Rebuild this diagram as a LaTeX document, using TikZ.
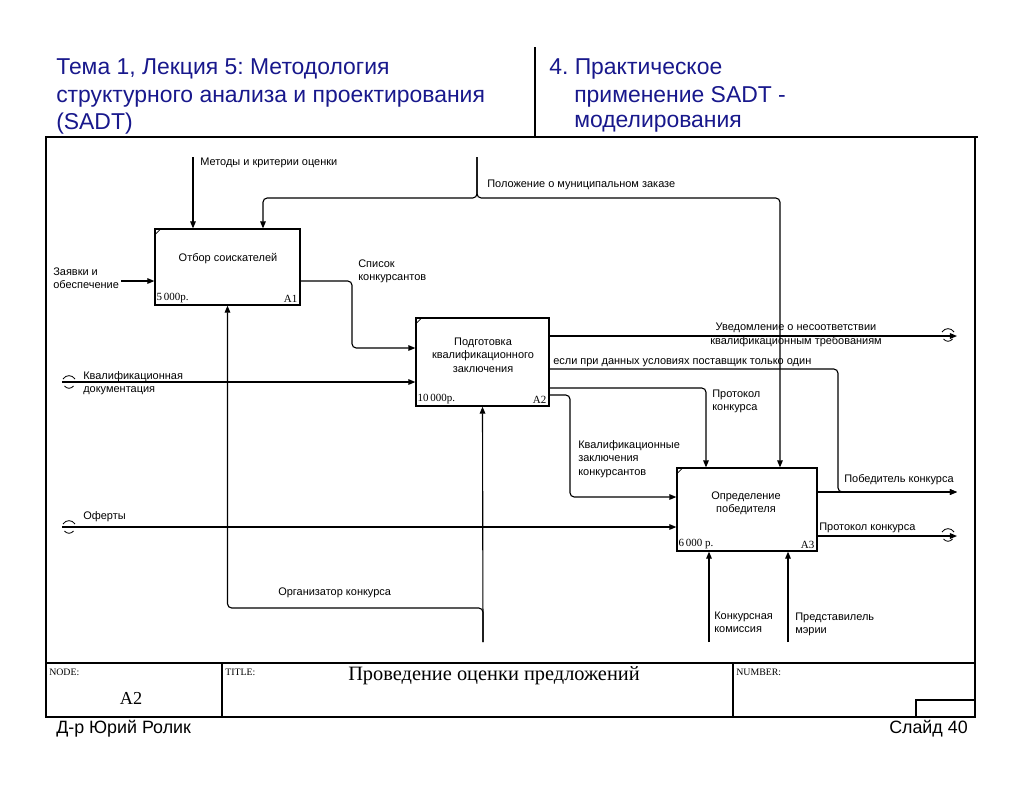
\documentclass[tikz,border=0pt]{standalone}
\usepackage{fontspec}
\setmainfont{Liberation Sans}
\newfontfamily\serifrm{Liberation Serif}
\usetikzlibrary{arrows.meta,positioning}
\definecolor{hdblue}{RGB}{24,24,140}
\frenchspacing

\tikzset{
  flow/.style={line width=0.8pt, rounded corners=3pt, -{Triangle[length=5pt,width=4pt]}},
  actbox/.style={draw, line width=0.9pt, fill=white, inner sep=0pt},
  lbl/.style={font=\fontsize{7.8}{9.6}\selectfont, inner sep=0pt, align=left},
  cost/.style={font=\serifrm\fontsize{7.8}{9}\selectfont, inner sep=0pt},
  frm/.style={line width=1pt},
  tiny/.style={font=\serifrm\fontsize{7}{8}\selectfont, inner sep=0pt, anchor=west},
  head/.style={font=\fontsize{16.3}{19.5}\selectfont, text=hdblue, inner sep=0pt, align=left, anchor=west},
  tunnel/.pic={
    \draw[line width=0.6pt] (-6,-3) .. controls (-3,-7.5) and (3,-7.5) .. (6,-3);
    \draw[line width=0.6pt] (-4.5,4) .. controls (-2,7) and (2,7) .. (4.5,4);
  },
}

\begin{document}
\begin{tikzpicture}[x=0.025cm,y=-0.025cm]
\useasboundingbox (0,0) rectangle (1024,791);
\fill[white] (0,0) rectangle (1024,791);

% header
\node[head] (hd1) at (56,96.5) {Тема 1, Лекция 5: Методология\\структурного анализа и проектирования\\(SADT)};
\node[head] (hd2) at (549,69) {4. Практическое};
\node[head] (hd3) at (574,97) {применение SADT -};
\node[head] (hd4) at (574,124) {моделирования};
\draw[line width=2pt] (535,47) -- (535,137);
\draw[line width=2pt] (45,137) -- (978,137);

% frame and title block
\draw[frm] (46,137) -- (46,717) -- (975,717) -- (975,137);
\draw[line width=1.3pt] (46,663) -- (975,663);
\draw[frm] (222,663) -- (222,717);
\draw[frm] (733,663) -- (733,717);
\draw[frm] (916,717) |- (975,700);
\node[tiny] (nd) at (49,672) {NODE:};
\node[tiny] (tl) at (225,672) {TITLE:};
\node[tiny] (nm) at (736,672) {NUMBER:};
\node[font=\serifrm\fontsize{13}{14}\selectfont, inner sep=0pt] (ndv) at (131,698) {A2};
\node[font=\serifrm\fontsize{14.5}{16}\selectfont, inner sep=0pt] (tlv) at (494,676) {Проведение оценки предложений};

% footer
\node[font=\fontsize{12.7}{14}\selectfont, inner sep=0pt, anchor=west] (ft1) at (56,729) {Д-р Юрий Ролик};
\node[font=\fontsize{12.7}{14}\selectfont, inner sep=0pt, anchor=east] (ft2) at (968,729) {Слайд 40};

% activity boxes
\node[actbox, minimum width=3.625cm, minimum height=1.9cm] (a1) at (227.5,267) {};
\node[actbox, minimum width=3.325cm, minimum height=2.2cm] (a2) at (482.5,362) {};
\node[actbox, minimum width=3.5cm, minimum height=2.075cm] (a3) at (747,509.5) {};
\foreach \b in {a1,a2,a3}
  \draw[line width=0.5pt] (\b.north west) ++(0,7) -- ++(7,-7);

\node[lbl, align=center] (a1t) at (228,259) {Отбор соискателей};
\node[lbl, align=center] (a2t) at (483,355) {Подготовка\\квалификационного\\заключения};
\node[lbl, align=center] (a3t) at (746,503) {Определение\\победителя};
\node[cost, anchor=south west] (a1c) at ([shift={(2,-3)}]a1.south west) {5\,000р.};
\node[cost, anchor=south east] (a1n) at ([shift={(-3,-3)}]a1.south east) {A1};
\node[cost, anchor=south west] (a2c) at ([shift={(2,-3)}]a2.south west) {10\,000р.};
\node[cost, anchor=south east] (a2n) at ([shift={(-3,-3)}]a2.south east) {A2};
\node[cost, anchor=south west] (a3c) at ([shift={(2,-3)}]a3.south west) {6\,000 р.};
\node[cost, anchor=south east] (a3n) at ([shift={(-3,-3)}]a3.south east) {A3};

% arrow end points
\coordinate (s1) at (193,157);
\coordinate (s2) at (477,157);
\coordinate (j2) at (477,198);
\coordinate (t2a) at (263,198);
\coordinate (t2b) at (780,198);
\coordinate (s3) at (121,281);
\coordinate (t4) at (352,348);
\coordinate (s5) at (483,642);
\coordinate (j5) at (483,608);
\coordinate (s6) at (62,382);
\coordinate (s7) at (62,527);
\coordinate (e8) at (957,336);
\coordinate (t9) at (838,369);
\coordinate (e10) at (957,492);
\coordinate (t11) at (706,388);
\coordinate (t12) at (570,395);
\coordinate (u12) at (570,497);
\coordinate (e13) at (957,536);
\coordinate (s14) at (709,642);
\coordinate (s15) at (788,642);

% arrows
\draw[flow] (s1) -- (s1 |- a1.north);
\draw[flow] (s2) -- (j2) -- (t2a) -- (t2a |- a1.north);
\draw[flow] (s2) -- (j2) -- (t2b) -- (t2b |- a3.north);
\draw[flow] (s3) -- (s3 -| a1.west);
\draw[flow] (a1.east |- s3) -| (t4) -- (t4 -| a2.west);
\draw[flow] (s5) -- (a2.south);
\draw[flow] (s5) -- (j5) -| (a1.south);
\draw[flow] (s6) -- (s6 -| a2.west);
\draw[flow] (s7) -- (s7 -| a3.west);
\draw[flow] (e8 -| a2.east) -- (e8);
\draw[flow] (t9 -| a2.east) -- (t9) |- (e10);
\draw[flow] (e10 -| a3.east) -- (e10);
\draw[flow] (t11 -| a2.east) -- (t11) -- (t11 |- a3.north);
\draw[flow] (t12 -| a2.east) -- (t12) -- (u12) -- (u12 -| a3.west);
\draw[flow] (e13 -| a3.east) -- (e13);
\draw[flow] (s14) -- (s14 |- a3.south);
\draw[flow] (s15) -- (s15 |- a3.south);

% tunnels
\pic at (69,382) {tunnel};
\pic at (69,527) {tunnel};
\pic at (948,335) {tunnel};
\pic at (948,535) {tunnel};

% arrow labels
\node[lbl, anchor=west] (l1) at (200,163) {Методы и критерии оценки};
\node[lbl, anchor=west] (l2) at (487,185) {Положение о муниципальном заказе};
\node[lbl, anchor=west] (l3) at (53,278) {Заявки и\\обеспечение};
\node[lbl, anchor=west] (l4) at (358,271.5) {Список\\конкурсантов};
\node[lbl, align=center] (l8) at (796,335) {Уведомление о несоответствии\\квалификационным требованиям};
\node[lbl, anchor=west] (l9) at (553,363) {если при данных условиях поставщик только один};
\node[lbl, anchor=west] (l11) at (712,401.5) {Протокол\\конкурса};
\node[lbl, anchor=west] (l12) at (578,459) {Квалификационные\\заключения\\конкурсантов};
\node[lbl, anchor=west] (l6) at (83,383) {Квалификационная\\документация};
\node[lbl, anchor=west] (l7) at (83,517) {Оферты};
\node[lbl, anchor=west] (l10) at (844,480) {Победитель конкурса};
\node[lbl, anchor=west] (l13) at (819,528) {Протокол конкурса};
\node[lbl, anchor=west] (l5) at (278,593) {Организатор конкурса};
\node[lbl, anchor=west] (l14) at (714,622.5) {Конкурсная\\комиссия};
\node[lbl, anchor=west] (l15) at (795,624.5) {Представилель\\мэрии};
\end{tikzpicture}
\end{document}
